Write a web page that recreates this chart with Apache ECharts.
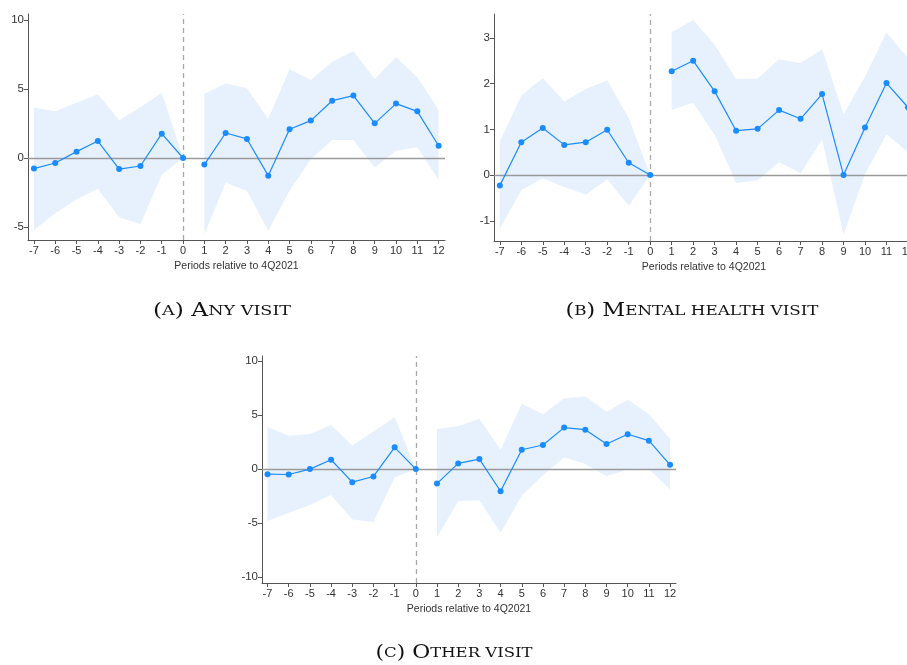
<!DOCTYPE html>
<html>
<head>
<meta charset="utf-8">
<script src="https://cdn.jsdelivr.net/npm/echarts@6/dist/echarts.min.js"></script>
<style>
html,body{margin:0;padding:0;background:#fff;}
#c{width:907px;height:665px;}
</style>
</head>
<body>
<div id="c"></div>
<script>
// ---- data ----
const periods = [-7,-6,-5,-4,-3,-2,-1,0,1,2,3,4,5,6,7,8,9,10,11,12];
const xTickValues = [-7,-6,-5,-4,-3,-2,-1,0,1,2,3,4,5,6,7,8,9,10,11,12];

// (A) Any visit
const anyEst = [-0.77,-0.36,0.46,1.23,-0.80,-0.58,1.76,0,-0.48,1.81,1.38,-1.28,2.08,2.71,4.15,4.52,2.51,3.94,3.38,0.89];
const anyHi  = [3.65,3.38,4.0,4.61,2.73,3.67,4.73,0,4.64,5.39,5.05,2.83,6.43,5.65,6.98,7.75,5.70,7.32,5.85,3.48];
const anyLo  = [-5.22,-4.0,-3.0,-2.22,-4.3,-4.8,-1.21,0,-5.53,-1.79,-2.37,-5.27,-2.37,-0.1,1.30,1.30,-0.68,0.53,0.77,-1.59];
const anyYTicks = [-5,0,5,10];

// (B) Mental health visit
const mhEst = [-0.23,0.72,1.03,0.66,0.72,0.99,0.27,0,2.27,2.50,1.83,0.97,1.01,1.42,1.23,1.77,0.0,1.04,2.01,1.48];
const mhHi  = [0.73,1.74,2.12,1.61,1.88,2.07,1.24,0,3.12,3.39,2.85,2.10,2.11,2.53,2.45,2.75,1.33,2.15,3.12,2.55];
const mhLo  = [-1.18,-0.33,-0.07,-0.26,-0.43,-0.09,-0.67,0,1.42,1.58,0.88,-0.17,-0.11,0.28,0.04,0.78,-1.30,0.02,0.89,0.5];
const mhYTicks = [-1,0,1,2,3];

// (C) Other visit
const othEst = [-0.47,-0.50,0.0,0.87,-1.21,-0.68,2.02,0,-1.34,0.53,0.93,-2.05,1.80,2.24,3.85,3.66,2.33,3.23,2.64,0.40];
const othHi  = [3.91,3.1,3.26,4.1,2.2,3.5,4.81,0,3.73,3.98,4.66,1.80,6.06,5.09,6.58,6.74,5.31,6.43,5.12,2.80];
const othLo  = [-4.81,-4.04,-3.32,-2.39,-4.66,-4.9,-0.78,0,-6.34,-2.95,-2.89,-5.9,-2.45,-0.56,1.09,0.47,-0.65,-0.03,0.0,-1.89];
const othYTicks = [-10,-5,0,5,10];

const xTitle = 'Periods relative to 4Q2021';

// ---- styles ----
const BLUE = '#1a8cff';
const BAND = '#e7f1fd';
const AXIS = '#555';
const SANS = 'Liberation Sans, Arial, sans-serif';

const panels = [
  {est:anyEst, hi:anyHi, lo:anyLo, yt:anyYTicks, ymin:-5.94, ymax:10.43, xmin:-7.28, xmax:12.3,
   grid:{left:28, top:14, width:417, height:226}},
  {est:mhEst, hi:mhHi, lo:mhLo, yt:mhYTicks, ymin:-1.44, ymax:3.52, xmin:-7.27, xmax:12.28,
   grid:{left:494, top:14, width:420, height:227}},
  {est:othEst, hi:othHi, lo:othLo, yt:othYTicks, ymin:-10.56, ymax:10.49, xmin:-7.26, xmax:12.28,
   grid:{left:262, top:356, width:414, height:227}}
];

function bandRenderer(pts){
  return function(params, api){
    if (params.dataIndex !== 0) return null;
    const upper = pts.map(d => api.coord([d[0], d[2]]));
    const lower = pts.map(d => api.coord([d[0], d[1]])).reverse();
    return {
      type:'polygon',
      shape:{points: upper.concat(lower)},
      style:{fill:BAND, stroke:null},
      silent:true
    };
  };
}

const grids=[], xAxes=[], yAxes=[], series=[];
panels.forEach((p, i) => {
  grids.push(Object.assign({containLabel:false, outerBoundsMode:'none'}, p.grid));
  xAxes.push({
    type:'value', gridIndex:i, min:p.xmin, max:p.xmax,
    name:xTitle, nameLocation:'middle', nameGap:21,
    nameTextStyle:{fontFamily:SANS, fontSize:10.5, color:'#333'},
    axisLine:{show:true, onZero:false, lineStyle:{color:AXIS, width:1}},
    axisTick:{show:true, customValues:xTickValues, length:4, lineStyle:{color:AXIS}},
    axisLabel:{show:true, customValues:xTickValues, margin:5, fontFamily:SANS, fontSize:11, color:'#333'},
    splitLine:{show:false}
  });
  yAxes.push({
    type:'value', gridIndex:i, min:p.ymin, max:p.ymax,
    axisLine:{show:true, onZero:false, lineStyle:{color:AXIS, width:1}},
    axisTick:{show:true, customValues:p.yt, length:4, lineStyle:{color:AXIS}},
    axisLabel:{show:true, customValues:p.yt, margin:4, fontFamily:SANS, fontSize:11.5, color:'#333'},
    splitLine:{show:false}
  });
  const segs = [[0,8],[8,20]];
  segs.forEach((s, k) => {
    const xs = periods.slice(s[0], s[1]);
    const lo = p.lo.slice(s[0], s[1]);
    const hi = p.hi.slice(s[0], s[1]);
    const est = p.est.slice(s[0], s[1]);
    const pts = xs.map((x,j)=>[x, lo[j], hi[j]]);
    series.push({
      type:'custom', xAxisIndex:i, yAxisIndex:i, data:pts,
      encode:{x:0, y:[1,2]}, renderItem:bandRenderer(pts), silent:true, z:1
    });
    const line = {
      type:'line', xAxisIndex:i, yAxisIndex:i,
      data: xs.map((x,j)=>[x, est[j]]),
      symbol:'circle', symbolSize:6, showSymbol:true,
      itemStyle:{color:BLUE}, lineStyle:{color:BLUE, width:1.2}, z:4, silent:true
    };
    if (k === 0) {
      line.markLine = {
        silent:true, symbol:'none', z:3, label:{show:false}, animation:false,
        data:[
          {yAxis:0, lineStyle:{color:'#9a9a9a', width:1.3, type:'solid'}},
          {xAxis:0, lineStyle:{color:'#aaaaaa', width:1.3, type:[5,4]}}
        ]
      };
    }
    series.push(line);
  });
});

function caption(x, y, parts, sx){
  // small caps simulation
  return {
    type:'text', x:x, y:y, scaleX:sx, silent:true,
    style:{
      text: parts, align:'center', verticalAlign:'middle',
      rich:{
        L:{fontFamily:'DejaVu Serif, serif', fontSize:18, fill:'#111'},
        s:{fontFamily:'DejaVu Serif, serif', fontSize:13.5, fill:'#111'}
      }
    }
  };
}

const chart = echarts.init(document.getElementById('c'), null, {renderer:'canvas'});
chart.setOption({
  animation:false,
  backgroundColor:'#fff',
  grid:grids, xAxis:xAxes, yAxis:yAxes, series:series,
  graphic:[
    caption(222, 311, '{L|(}{s|A}{L|) A}{s|NY VISIT}', 1.3),
    caption(692, 311, '{L|(}{s|B}{L|) M}{s|ENTAL HEALTH VISIT}', 1.24),
    caption(454, 653, '{L|(}{s|C}{L|) O}{s|THER VISIT}', 1.22)
  ]
});
</script>
</body>
</html>
